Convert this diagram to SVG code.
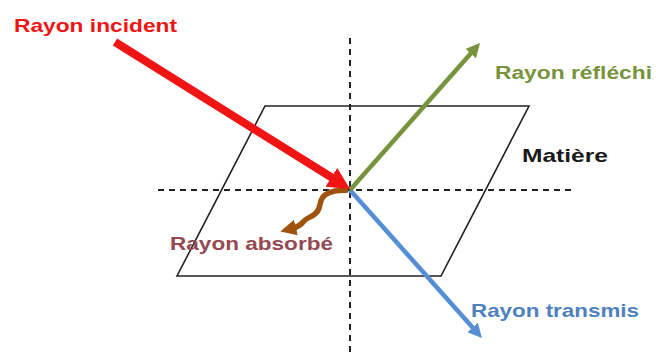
<svg xmlns="http://www.w3.org/2000/svg" width="656" height="359" viewBox="0 0 656 359">
<style>
.lbl{font-family:"Liberation Sans",Arial,sans-serif;font-weight:bold;font-size:19px}
.dash{stroke:#222;stroke-width:2;stroke-dasharray:6 5;fill:none}
.ray{fill:none;stroke-linecap:butt}
</style>
<defs>
<marker id="hRed" markerUnits="userSpaceOnUse" markerWidth="22" markerHeight="22" refX="7" refY="11" orient="auto"><path d="M0,0 L22,11 L0,22 z" fill="#f01414"/></marker>
<marker id="hGreen" markerUnits="userSpaceOnUse" markerWidth="14" markerHeight="14" refX="4" refY="7" orient="auto"><path d="M0,0 L14,7 L0,14 z" fill="#77933c"/></marker>
<marker id="hBlue" markerUnits="userSpaceOnUse" markerWidth="14" markerHeight="14" refX="4" refY="7" orient="auto"><path d="M0,0 L14,7 L0,14 z" fill="#558ed5"/></marker>
<marker id="hBrown" markerUnits="userSpaceOnUse" markerWidth="16" markerHeight="16" refX="4" refY="8" orient="auto"><path d="M0,0 L16,8 L0,16 z" fill="#a0520f"/></marker>
</defs>
<rect width="656" height="359" fill="#ffffff"/>
<g id="axes">
<line class="dash" x1="350" y1="38" x2="350" y2="356"/>
<line class="dash" x1="158" y1="190" x2="572" y2="190"/>
</g>
<g id="matiere">
<polygon points="265,106 529,106 441,276 177,276" fill="none" stroke="#222" stroke-width="1.6"/>
<text class="lbl" x="522" y="162" fill="#1a1a1a" textLength="86" lengthAdjust="spacingAndGlyphs">Matière</text>
</g>
<g id="connectors">
<path id="absorbe-ray" class="ray" d="M348,190 C338,190 328,191 323,197 C318,203 322,207 316,213 C311,218 307,217 303,222 C300,226 296,227.5 292,228.5" stroke="#a0520f" stroke-width="5.5" marker-end="url(#hBrown)"/>
<line id="transmis-ray" class="ray" x1="350" y1="190" x2="475.3" y2="330.5" stroke="#558ed5" stroke-width="4.5" marker-end="url(#hBlue)"/>
<line id="reflechi-ray" class="ray" x1="350" y1="190" x2="473.4" y2="50.5" stroke="#77933c" stroke-width="4.5" marker-end="url(#hGreen)"/>
<line id="incident-ray" class="ray" x1="115" y1="42" x2="337.3" y2="181" stroke="#f01414" stroke-width="8" marker-end="url(#hRed)"/>
</g>
<g id="incident">
<text class="lbl" x="14" y="32" fill="#f01414" textLength="163" lengthAdjust="spacingAndGlyphs">Rayon incident</text>
</g>
<g id="reflechi">
<text class="lbl" x="495" y="79" fill="#77933c" textLength="157" lengthAdjust="spacingAndGlyphs">Rayon réfléchi</text>
</g>
<g id="absorbe">
<text class="lbl" x="170" y="250" fill="#944a52" textLength="163" lengthAdjust="spacingAndGlyphs">Rayon absorbé</text>
</g>
<g id="transmis">
<text class="lbl" x="471" y="317" fill="#4f81bd" textLength="168" lengthAdjust="spacingAndGlyphs">Rayon transmis</text>
</g>
</svg>
